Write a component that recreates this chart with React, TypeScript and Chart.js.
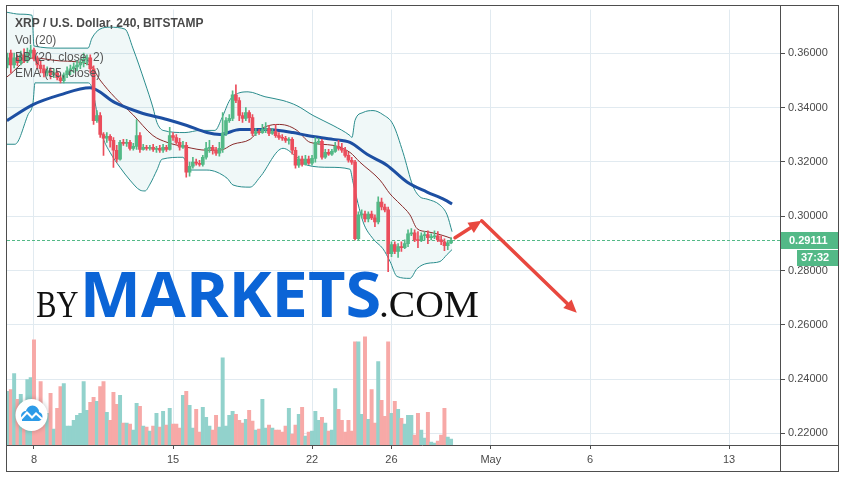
import { useEffect, useRef } from 'react';
import { Chart, registerables } from 'chart.js';

Chart.register(...registerables);

// ---------- data ----------
const FIRST_CANDLE_DAY = 6 + 4 / 6; // Apr 6, 16:00 (4h candles)
const CANDLES_PER_DAY = 6;

// [open, high, low, close]
const candles: [number, number, number, number][] = [
  [0.3557, 0.3601, 0.3546, 0.3583],
  [0.3601, 0.3612, 0.3528, 0.3557], [0.3557, 0.3601, 0.3546, 0.3583], [0.3583, 0.3594, 0.3554, 0.3565],
  [0.3565, 0.3608, 0.3557, 0.3594], [0.3594, 0.3616, 0.3565, 0.3572], [0.3572, 0.3619, 0.3565, 0.3601],
  [0.3601, 0.3630, 0.3583, 0.3612], [0.3612, 0.3619, 0.3572, 0.3579], [0.3579, 0.3590, 0.3543, 0.3557],
  [0.3557, 0.3572, 0.3528, 0.3543], [0.3543, 0.3557, 0.3513, 0.3528], [0.3528, 0.3550, 0.3517, 0.3535],
  [0.3535, 0.3546, 0.3506, 0.3521], [0.3521, 0.3543, 0.3510, 0.3528], [0.3528, 0.3535, 0.3502, 0.3510],
  [0.3510, 0.3521, 0.3491, 0.3499], [0.3499, 0.3528, 0.3491, 0.3521], [0.3521, 0.3550, 0.3510, 0.3535],
  [0.3535, 0.3557, 0.3521, 0.3543], [0.3543, 0.3565, 0.3528, 0.3550], [0.3550, 0.3572, 0.3535, 0.3557],
  [0.3557, 0.3579, 0.3543, 0.3565], [0.3565, 0.3601, 0.3550, 0.3579], [0.3579, 0.3594, 0.3557, 0.3583],
  [0.3583, 0.3594, 0.3528, 0.3543], [0.3543, 0.3554, 0.3338, 0.3352], [0.3352, 0.3389, 0.3345, 0.3371],
  [0.3371, 0.3382, 0.3290, 0.3301], [0.3301, 0.3308, 0.3224, 0.3287], [0.3287, 0.3308, 0.3272, 0.3294],
  [0.3294, 0.3301, 0.3254, 0.3279], [0.3279, 0.3290, 0.3180, 0.3243], [0.3243, 0.3261, 0.3199, 0.3210],
  [0.3210, 0.3279, 0.3206, 0.3272], [0.3272, 0.3283, 0.3261, 0.3268], [0.3268, 0.3283, 0.3257, 0.3272],
  [0.3272, 0.3279, 0.3243, 0.3250], [0.3250, 0.3268, 0.3243, 0.3257], [0.3257, 0.3356, 0.3246, 0.3297],
  [0.3297, 0.3308, 0.3235, 0.3246], [0.3246, 0.3265, 0.3243, 0.3254], [0.3254, 0.3261, 0.3243, 0.3250],
  [0.3250, 0.3261, 0.3243, 0.3254], [0.3254, 0.3265, 0.3239, 0.3246], [0.3246, 0.3257, 0.3235, 0.3250],
  [0.3250, 0.3261, 0.3235, 0.3243], [0.3243, 0.3265, 0.3235, 0.3254], [0.3254, 0.3261, 0.3239, 0.3246],
  [0.3246, 0.3327, 0.3243, 0.3297], [0.3297, 0.3308, 0.3279, 0.3290], [0.3290, 0.3301, 0.3265, 0.3272],
  [0.3272, 0.3287, 0.3243, 0.3254], [0.3254, 0.3276, 0.3250, 0.3261], [0.3261, 0.3272, 0.3144, 0.3162],
  [0.3162, 0.3199, 0.3147, 0.3184], [0.3184, 0.3217, 0.3177, 0.3199], [0.3199, 0.3210, 0.3188, 0.3195],
  [0.3195, 0.3206, 0.3184, 0.3191], [0.3191, 0.3224, 0.3184, 0.3217], [0.3217, 0.3272, 0.3210, 0.3250],
  [0.3250, 0.3279, 0.3235, 0.3254], [0.3254, 0.3261, 0.3228, 0.3243], [0.3243, 0.3254, 0.3224, 0.3232],
  [0.3232, 0.3272, 0.3221, 0.3250], [0.3250, 0.3382, 0.3235, 0.3305], [0.3305, 0.3363, 0.3297, 0.3352],
  [0.3352, 0.3374, 0.3345, 0.3360], [0.3360, 0.3462, 0.3352, 0.3447], [0.3447, 0.3484, 0.3418, 0.3426],
  [0.3426, 0.3437, 0.3352, 0.3371], [0.3371, 0.3382, 0.3345, 0.3360], [0.3360, 0.3400, 0.3352, 0.3382],
  [0.3382, 0.3389, 0.3345, 0.3363], [0.3363, 0.3374, 0.3297, 0.3305], [0.3305, 0.3323, 0.3297, 0.3312],
  [0.3312, 0.3319, 0.3301, 0.3308], [0.3308, 0.3338, 0.3305, 0.3319], [0.3319, 0.3345, 0.3308, 0.3323],
  [0.3323, 0.3334, 0.3297, 0.3305], [0.3305, 0.3323, 0.3301, 0.3312], [0.3312, 0.3338, 0.3290, 0.3297],
  [0.3297, 0.3308, 0.3283, 0.3290], [0.3290, 0.3301, 0.3279, 0.3287], [0.3287, 0.3294, 0.3272, 0.3279],
  [0.3279, 0.3290, 0.3265, 0.3283], [0.3283, 0.3290, 0.3228, 0.3243], [0.3243, 0.3254, 0.3177, 0.3188],
  [0.3188, 0.3221, 0.3180, 0.3210], [0.3210, 0.3221, 0.3184, 0.3191], [0.3191, 0.3224, 0.3188, 0.3210],
  [0.3210, 0.3221, 0.3191, 0.3195], [0.3195, 0.3224, 0.3188, 0.3213], [0.3213, 0.3290, 0.3199, 0.3272],
  [0.3272, 0.3287, 0.3265, 0.3276], [0.3276, 0.3283, 0.3210, 0.3217], [0.3217, 0.3246, 0.3213, 0.3235],
  [0.3235, 0.3246, 0.3224, 0.3228], [0.3228, 0.3246, 0.3224, 0.3239], [0.3239, 0.3272, 0.3235, 0.3257],
  [0.3257, 0.3279, 0.3243, 0.3250], [0.3250, 0.3268, 0.3235, 0.3243], [0.3243, 0.3254, 0.3217, 0.3224],
  [0.3224, 0.3235, 0.3199, 0.3206], [0.3206, 0.3217, 0.3191, 0.3199], [0.3199, 0.3206, 0.2913, 0.2917],
  [0.2917, 0.3016, 0.2913, 0.3005], [0.3005, 0.3023, 0.2994, 0.3008], [0.3008, 0.3019, 0.2979, 0.2990],
  [0.2990, 0.3016, 0.2979, 0.3008], [0.3008, 0.3019, 0.2987, 0.2994], [0.2994, 0.3005, 0.2961, 0.2979],
  [0.2979, 0.3071, 0.2972, 0.3052], [0.3052, 0.3067, 0.3023, 0.3034], [0.3034, 0.3045, 0.3016, 0.3023],
  [0.3023, 0.3034, 0.2796, 0.2862], [0.2862, 0.2906, 0.2851, 0.2895], [0.2895, 0.2906, 0.2862, 0.2870],
  [0.2870, 0.2899, 0.2848, 0.2888], [0.2888, 0.2906, 0.2870, 0.2884], [0.2884, 0.2913, 0.2880, 0.2899],
  [0.2899, 0.2950, 0.2888, 0.2935], [0.2935, 0.2954, 0.2928, 0.2939], [0.2939, 0.2950, 0.2906, 0.2913],
  [0.2913, 0.2943, 0.2884, 0.2910], [0.2910, 0.2939, 0.2906, 0.2928], [0.2928, 0.2943, 0.2913, 0.2932],
  [0.2932, 0.2946, 0.2899, 0.2921], [0.2921, 0.2935, 0.2913, 0.2924], [0.2924, 0.2946, 0.2917, 0.2928],
  [0.2928, 0.2943, 0.2906, 0.2913], [0.2913, 0.2928, 0.2895, 0.2906], [0.2906, 0.2917, 0.2873, 0.2891],
  [0.2891, 0.2910, 0.2877, 0.2902], [0.2902, 0.2921, 0.2899, 0.29111],
];

// volume (millions XRP) per candle
const volumes: number[] = [
  5.4, 5.6, 7.2, 4.6, 5.1, 3.2, 6.6, 6.8, 10.6, 2.8, 6.4, 3.2, 3.2, 5.2, 1.6, 3.7, 5.9, 6.2, 1.9, 1.9,
  2.5, 3.0, 3.2, 6.4, 3.5, 4.3, 4.8, 4.4, 5.9, 6.4, 3.3, 2.5, 5.3, 4.1, 5.0, 2.2, 2.2, 2.1, 1.5, 4.2,
  3.9, 1.9, 1.8, 1.4, 1.9, 3.2, 1.8, 3.4, 2.0, 3.7, 2.1, 2.1, 1.7, 5.0, 5.4, 4.0, 1.7, 3.6, 1.3, 3.8,
  2.8, 1.9, 1.5, 3.0, 1.8, 8.8, 1.9, 3.0, 3.4, 3.1, 2.5, 2.2, 2.6, 3.5, 2.4, 1.5, 1.6, 4.6, 1.7, 2.0,
  1.7, 1.5, 1.5, 1.3, 1.9, 3.7, 1.1, 2.0, 3.1, 3.8, 0.9, 1.3, 1.4, 3.4, 2.5, 2.8, 2.2, 1.4, 1.5, 5.7,
  3.6, 2.5, 1.3, 2.5, 1.4, 10.4, 10.4, 3.1, 10.9, 2.6, 5.6, 2.2, 8.4, 4.5, 2.9, 10.4, 3.2, 4.4, 3.6, 2.7,
  2.1, 3.0, 3.0, 1.0, 3.2, 1.5, 0.7, 3.3, 0.3, 0.2, 0.4, 1.0, 3.7, 0.8, 0.6,
];

// indicator lines: [day of April, price]
const bbUpper: [number, number][] = [
  [6.64, 0.3751], [7.30, 0.3744], [7.90, 0.3740], [8.00, 0.3627], [9.31, 0.3619], [10.72, 0.3619],
  [10.92, 0.3656], [11.32, 0.3689], [11.82, 0.3696], [12.58, 0.3689], [12.98, 0.3619], [13.59, 0.3491],
  [13.99, 0.3400], [14.19, 0.3345], [14.50, 0.3316], [15.60, 0.3308], [16.36, 0.3316], [17.11, 0.3316],
  [17.47, 0.3363], [17.87, 0.3429], [18.37, 0.3455], [18.78, 0.3458], [19.63, 0.3440], [20.54, 0.3426],
  [21.24, 0.3407], [22.05, 0.3371], [23.06, 0.3334], [23.91, 0.3297], [24.01, 0.3290], [24.16, 0.3352],
  [24.57, 0.3382], [25.07, 0.3389], [25.57, 0.3374], [26.08, 0.3338], [26.58, 0.3235], [27.08, 0.3111],
  [27.44, 0.3071], [27.79, 0.3063], [28.44, 0.3041], [28.80, 0.3005], [29.05, 0.2943],
];
const bbLower: [number, number][] = [
  [6.64, 0.3265], [7.04, 0.3265], [7.70, 0.3374], [7.95, 0.3418], [8.05, 0.3491], [9.31, 0.3491],
  [10.72, 0.3491], [10.92, 0.3473], [11.17, 0.3382], [11.47, 0.3290], [11.83, 0.3235], [12.33, 0.3180],
  [12.83, 0.3133], [13.34, 0.3096], [13.59, 0.3093], [13.84, 0.3118], [14.19, 0.3170], [14.45, 0.3210],
  [15.50, 0.3217], [15.85, 0.3170], [16.71, 0.3170], [17.72, 0.3140], [18.02, 0.3115], [18.88, 0.3107],
  [19.38, 0.3144], [20.54, 0.3250], [21.24, 0.3217], [21.75, 0.3188], [22.90, 0.3180], [23.91, 0.3173],
  [24.06, 0.3126], [24.57, 0.2979], [25.07, 0.2917], [25.57, 0.2880], [25.93, 0.2833], [26.28, 0.2778],
  [26.93, 0.2771], [27.29, 0.2807], [27.79, 0.2826], [28.44, 0.2833], [28.80, 0.2859], [29.05, 0.2877],
];
const bbBasis: [number, number][] = [
  [6.64, 0.3513], [7.95, 0.3583], [9.31, 0.3572], [10.82, 0.3557], [11.32, 0.3502], [12.08, 0.3437],
  [12.98, 0.3374], [13.99, 0.3297], [14.70, 0.3272], [15.70, 0.3254], [16.71, 0.3243], [17.37, 0.3243],
  [18.02, 0.3265], [18.88, 0.3283], [19.38, 0.3319], [20.24, 0.3338], [20.74, 0.3334], [21.24, 0.3316],
  [21.90, 0.3272], [23.06, 0.3261], [23.91, 0.3235], [24.41, 0.3199], [25.42, 0.3133], [25.93, 0.3082],
  [26.43, 0.3045], [26.93, 0.3005], [27.29, 0.2954], [27.79, 0.2943], [28.29, 0.2935], [28.80, 0.2924],
  [29.05, 0.2917],
];
const ema55: [number, number][] = [
  [6.64, 0.3352], [7.95, 0.3411], [9.31, 0.3447], [10.82, 0.3473], [12.08, 0.3418], [13.34, 0.3382],
  [14.70, 0.3356], [15.70, 0.3334], [16.71, 0.3308], [17.37, 0.3301], [18.37, 0.3319], [19.73, 0.3319],
  [21.04, 0.3308], [21.75, 0.3297], [23.06, 0.3283], [23.91, 0.3272], [24.77, 0.3228], [25.77, 0.3188],
  [26.78, 0.3126], [27.79, 0.3089], [28.69, 0.3060], [29.05, 0.3045],
];

// forecast arrows drawn on the chart: [day, price]
const arrowPath: [number, number][] = [[29.2, 0.29207], [30.54, 0.29828], [35.33, 0.26442]];

const LAST_PRICE = 0.29111;
const COUNTDOWN = '37:32';

const xTickDays = [8, 15, 22, 26, 31, 36, 43];
const xTickLabels = ['8', '15', '22', '26', 'May', '6', '13'];
const yTicks = [0.22, 0.24, 0.26, 0.28, 0.3, 0.32, 0.34, 0.36];

const TITLE = 'XRP / U.S. Dollar, 240, BITSTAMP';
const STUDY_LABELS = ['Vol (20)', 'BB (20, close, 2)', 'EMA (55, close)'];

// ---------- styles ----------
const UP = '#53b987';
const DOWN = '#eb4d5c';
const VOL_UP = '#92d2cc';
const VOL_DOWN = '#f7a9a7';
const GRID = '#e1eaf0';
const FRAME = '#4e4e4e';
const TEXT = '#4a4a4a';
const FONT = '"Liberation Sans", Arial, sans-serif';

function drawArrow(ctx: CanvasRenderingContext2D, x1: number, y1: number, x2: number, y2: number) {
  const ang = Math.atan2(y2 - y1, x2 - x1);
  const head = 13;
  const hw = 6;
  const bx = x2 - head * Math.cos(ang);
  const by = y2 - head * Math.sin(ang);
  ctx.beginPath();
  ctx.moveTo(x1, y1);
  ctx.lineTo(bx, by);
  ctx.stroke();
  ctx.beginPath();
  ctx.moveTo(x2, y2);
  ctx.lineTo(bx + hw * Math.sin(ang), by - hw * Math.cos(ang));
  ctx.lineTo(bx - hw * Math.sin(ang), by + hw * Math.cos(ang));
  ctx.closePath();
  ctx.fill();
}

function fitText(ctx: CanvasRenderingContext2D, text: string, x: number, y: number, width: number) {
  const m = ctx.measureText(text);
  const w = (m.actualBoundingBoxRight || m.width) + (m.actualBoundingBoxLeft || 0);
  ctx.save();
  ctx.translate(x, y);
  ctx.scale(width / w, 1);
  ctx.fillText(text, m.actualBoundingBoxLeft || 0, 0);
  ctx.restore();
}

const overlayPlugin = {
  id: 'overlay',
  beforeDatasetsDraw(chart: any) {
    const { ctx, chartArea: a, scales } = chart;
    const y = scales.y.getPixelForValue(LAST_PRICE);
    ctx.save();
    ctx.strokeStyle = UP;
    ctx.lineWidth = 1;
    ctx.setLineDash([3, 2]);
    ctx.beginPath();
    ctx.moveTo(a.left, Math.round(y) + 0.5);
    ctx.lineTo(a.right, Math.round(y) + 0.5);
    ctx.stroke();
    ctx.restore();
  },
  afterDatasetsDraw(chart: any) {
    const { ctx, scales } = chart;
    const xs = scales.x;
    const ys = scales.y;
    // arrows
    ctx.save();
    ctx.strokeStyle = '#e8483f';
    ctx.fillStyle = '#e8483f';
    ctx.lineWidth = 3.5;
    ctx.lineCap = 'round';
    for (let i = 0; i < arrowPath.length - 1; i++) {
      const [d1, p1] = arrowPath[i];
      const [d2, p2] = arrowPath[i + 1];
      drawArrow(ctx, xs.getPixelForValue(d1), ys.getPixelForValue(p1), xs.getPixelForValue(d2), ys.getPixelForValue(p2));
    }
    ctx.restore();

    // watermark
    ctx.save();
    ctx.textBaseline = 'alphabetic';
    ctx.fillStyle = '#111111';
    ctx.font = '38px "Liberation Serif", "DejaVu Serif", serif';
    fitText(ctx, 'BY', 37, 317, 41);
    ctx.fillStyle = '#0b64d6';
    ctx.font = 'bold 62px "Open Sans", "Liberation Sans", sans-serif';
    fitText(ctx, 'MARKETS', 85, 317, 294);
    ctx.fillStyle = '#111111';
    ctx.font = '38px "Liberation Serif", "DejaVu Serif", serif';
    fitText(ctx, '.COM', 381, 317, 97);
    ctx.restore();

    // logo badge
    ctx.save();
    ctx.shadowColor = 'rgba(0,0,0,0.25)';
    ctx.shadowBlur = 5;
    ctx.fillStyle = '#ffffff';
    ctx.beginPath();
    ctx.arc(31.5, 415, 16, 0, Math.PI * 2);
    ctx.fill();
    ctx.shadowColor = 'transparent';
    ctx.fillStyle = '#2d9be8';
    ctx.beginPath();
    ctx.arc(26, 416, 5, 0, Math.PI * 2);
    ctx.arc(32.5, 412, 6.5, 0, Math.PI * 2);
    ctx.arc(38, 416.5, 4.5, 0, Math.PI * 2);
    ctx.fill();
    ctx.fillRect(22, 416, 17, 5);
    ctx.strokeStyle = '#ffffff';
    ctx.lineWidth = 2;
    ctx.beginPath();
    ctx.moveTo(21, 419);
    ctx.lineTo(27, 412.5);
    ctx.lineTo(32, 417.5);
    ctx.lineTo(36, 413.5);
    ctx.lineTo(42, 419);
    ctx.stroke();
    ctx.restore();
  },
  afterDraw(chart: any) {
    const { ctx, scales } = chart;
    ctx.save();
    // frame
    ctx.strokeStyle = FRAME;
    ctx.lineWidth = 1;
    ctx.strokeRect(6.5, 5.5, 832, 466);
    ctx.beginPath();
    ctx.moveTo(780.5, 5.5);
    ctx.lineTo(780.5, 471.5);
    ctx.moveTo(6.5, 445.5);
    ctx.lineTo(838.5, 445.5);
    ctx.stroke();

    // last price label
    const py = scales.y.getPixelForValue(LAST_PRICE);
    ctx.fillStyle = UP;
    ctx.fillRect(781, Math.round(py) - 8, 57, 17);
    ctx.fillRect(797, Math.round(py) + 10, 41, 16);
    ctx.fillStyle = '#ffffff';
    ctx.font = `bold 11px ${FONT}`;
    ctx.textBaseline = 'middle';
    ctx.fillText(LAST_PRICE.toFixed(5), 789, Math.round(py) + 0.5);
    ctx.fillText(COUNTDOWN, 801, Math.round(py) + 18);

    // legend
    ctx.textBaseline = 'alphabetic';
    ctx.fillStyle = TEXT;
    ctx.font = `bold 12px ${FONT}`;
    ctx.fillText(TITLE, 15, 27);
    ctx.fillStyle = '#555555';
    ctx.font = `12px ${FONT}`;
    ctx.fillText(STUDY_LABELS[0], 15, 44);
    ctx.fillText(STUDY_LABELS[1], 15, 61);
    ctx.fillText(STUDY_LABELS[2], 15, 77);
    ctx.restore();
  },
};

const toPts = (arr: [number, number][]) => arr.map(([d, p]) => ({ x: d, y: p }));

export default function App() {
  const ref = useRef<HTMLCanvasElement | null>(null);

  useEffect(() => {
    if (!ref.current) return;
    const days = candles.map((_, i) => FIRST_CANDLE_DAY + i / CANDLES_PER_DAY);
    const up = candles.map((c) => c[3] >= c[0]);

    const chart = new Chart(ref.current, {
      type: 'bar',
      data: {
        datasets: [
          {
            type: 'bar',
            label: 'Bodies',
            data: candles.map((c, i) => ({ x: days[i], y: [c[0], c[3]] })),
            backgroundColor: up.map((u) => (u ? UP : DOWN)),
            barThickness: 3,
            minBarLength: 1,
            grouped: false,
            order: 0,
          } as any,
          {
            type: 'bar',
            label: 'Wicks',
            data: candles.map((c, i) => ({ x: days[i], y: [c[2], c[1]] })),
            backgroundColor: up.map((u) => (u ? UP : DOWN)),
            barThickness: 1,
            grouped: false,
            order: 1,
          } as any,
          {
            type: 'line',
            label: 'EMA',
            data: toPts(ema55),
            borderColor: '#1d4fa2',
            borderWidth: 3,
            pointRadius: 0,
            cubicInterpolationMode: 'monotone',
            order: 2,
          } as any,
          {
            type: 'line',
            label: 'BB basis',
            data: toPts(bbBasis),
            borderColor: '#8a2c2c',
            borderWidth: 1,
            pointRadius: 0,
            cubicInterpolationMode: 'monotone',
            order: 3,
          } as any,
          {
            type: 'line',
            label: 'BB upper',
            data: toPts(bbUpper),
            borderColor: '#2a8c8c',
            borderWidth: 1,
            pointRadius: 0,
            fill: '+1',
            backgroundColor: 'rgba(40,150,150,0.07)',
            cubicInterpolationMode: 'monotone',
            order: 4,
          } as any,
          {
            type: 'line',
            label: 'BB lower',
            data: toPts(bbLower),
            borderColor: '#2a8c8c',
            borderWidth: 1,
            pointRadius: 0,
            fill: false,
            cubicInterpolationMode: 'monotone',
            order: 5,
          } as any,
          {
            type: 'bar',
            label: 'Volume',
            data: volumes.map((v, i) => ({ x: days[i], y: v })),
            yAxisID: 'yv',
            backgroundColor: up.map((u) => (u ? VOL_UP : VOL_DOWN)),
            barThickness: 3.3,
            grouped: false,
            order: 9,
          } as any,
        ],
      },
      options: {
        responsive: false,
        animation: false,
        events: [],
        layout: { padding: { left: 7, top: 6, right: 6, bottom: 8 } },
        plugins: {
          legend: { display: false },
          tooltip: { enabled: false },
        },
        scales: {
          x: {
            type: 'linear',
            offset: false,
            min: 6.6405,
            max: 45.563,
            afterBuildTicks: (s: any) => {
              s.ticks = xTickDays.map((v) => ({ value: v }));
            },
            afterFit: (s: any) => {
              s.height = 26;
            },
            ticks: {
              autoSkip: false,
              maxRotation: 0,
              padding: 4,
              color: TEXT,
              font: { family: FONT, size: 11 },
              callback: (v: any) => xTickLabels[xTickDays.indexOf(Number(v))] ?? '',
            },
            grid: { offset: false, color: GRID, tickLength: 4, tickColor: FRAME },
            border: { display: false },
          },
          y: {
            type: 'linear',
            position: 'right',
            min: 0.21573,
            max: 0.37609,
            afterBuildTicks: (s: any) => {
              s.ticks = yTicks.map((v) => ({ value: v }));
            },
            afterFit: (s: any) => {
              s.width = 58;
            },
            ticks: {
              padding: 3,
              color: TEXT,
              font: { family: FONT, size: 11 },
              callback: (v: any) => Number(v).toFixed(5),
            },
            grid: { color: GRID, tickLength: 5, tickColor: FRAME },
            border: { display: false },
          },
          yv: {
            type: 'linear',
            display: false,
            min: 0,
            max: 43.9,
          },
        },
      } as any,
      plugins: [overlayPlugin],
    });
    return () => chart.destroy();
  }, []);

  return (
    <div style={{ position: 'fixed', left: 0, top: 0, width: 844, height: 479, background: '#ffffff' }}>
      <canvas ref={ref} width={844} height={479} style={{ display: 'block' }} />
    </div>
  );
}
